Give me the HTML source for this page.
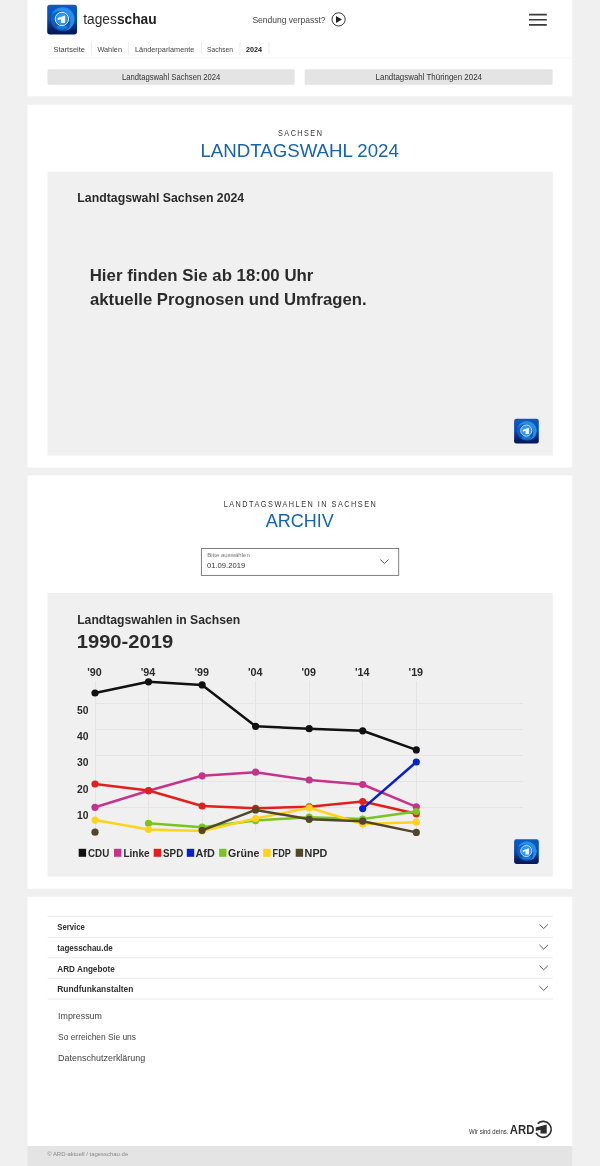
<!DOCTYPE html>
<html><head><meta charset="utf-8"><title>Landtagswahl Sachsen</title>
<style>
*{box-sizing:border-box;margin:0;padding:0}
html,body{width:600px;height:1166px;overflow:hidden}
body{background:#f0f0f0;font-family:"Liberation Sans",sans-serif;position:relative}
svg{position:absolute;left:0;top:0;will-change:transform;transform:translateZ(0)}
text{font-family:"Liberation Sans",sans-serif;white-space:pre}
</style></head><body>
<svg width="600" height="1166" viewBox="0 0 600 1166" font-family="Liberation Sans, sans-serif">
<defs>
<linearGradient id="lg" x1="0" y1="0" x2="0" y2="1"><stop offset="0" stop-color="#0b5cc2"/><stop offset=".5" stop-color="#0a4cae"/><stop offset=".85" stop-color="#051f66"/><stop offset="1" stop-color="#041a5a"/></linearGradient>
<filter id="bl" x="-20%" y="-20%" width="140%" height="140%"><feGaussianBlur stdDeviation=".7"/></filter>
<mask id="cm" maskUnits="userSpaceOnUse" x="0" y="0" width="30" height="30"><rect width="30" height="30" fill="#fff"/><circle cx="12.6" cy="17.2" r="10.8" fill="#000"/></mask>
</defs>
<rect x="27.60" y="0.00" width="544.60" height="96.30" fill="#fff"/>
<rect x="47.50" y="57.50" width="524.70" height="1.00" fill="#f4f4f4"/>
<g transform="translate(47.2 4.7) scale(0.9933)">
<rect width="30" height="30" rx="2.8" fill="url(#lg)"/>
<g filter="url(#bl)">
<circle cx="15.3" cy="15" r="11.6" fill="#1068d0" opacity=".7"/>
<circle cx="15.5" cy="14.6" r="12" fill="#2794ee" opacity=".9" mask="url(#cm)"/>
<ellipse cx="15" cy="22.6" rx="5.5" ry="2.4" fill="#2488e6" opacity=".7"/>
<circle cx="14.8" cy="14.3" r="6" fill="#2f98ee"/>
</g>
<circle cx="14.8" cy="14.3" r="6.7" fill="none" stroke="#fff" stroke-width=".95"/>
<path d="M10.6 13.3 L18 10.9 L18 18.5 L13.8 18.5 L13.8 14.6 L10.6 15.7z" fill="#fff" opacity=".93"/>
</g>
<text x="83.2" y="24" font-size="14.7" fill="#2b2b2b" textLength="73.5" lengthAdjust="spacingAndGlyphs">tages<tspan font-weight="bold" fill="#1e1e1e">schau</tspan></text>
<text x="252.40" y="23.00" font-size="9.3" fill="#444" textLength="73.20" lengthAdjust="spacingAndGlyphs">Sendung verpasst?</text>
<circle cx="338.6" cy="19.4" r="6.6" fill="none" stroke="#222" stroke-width=".9"/><path d="M336 15.9 L342 19.4 L336 22.9z" fill="#222"/>
<path d="M529 14.6H546.8M529 19.75H546.8M529 24.9H546.8" stroke="#3a3a3a" stroke-width="1.6" fill="none"/>
<text x="53.40" y="51.60" font-size="8.0" fill="#444" textLength="31.60" lengthAdjust="spacingAndGlyphs">Startseite</text>
<text x="97.40" y="51.60" font-size="8.0" fill="#444" textLength="24.60" lengthAdjust="spacingAndGlyphs">Wahlen</text>
<text x="135.00" y="51.60" font-size="8.0" fill="#444" textLength="59.40" lengthAdjust="spacingAndGlyphs">Länderparlamente</text>
<text x="207.00" y="51.60" font-size="8.0" fill="#444" textLength="26.00" lengthAdjust="spacingAndGlyphs">Sachsen</text>
<text x="246.00" y="51.60" font-size="8.0" fill="#222" font-weight="bold" textLength="16.00" lengthAdjust="spacingAndGlyphs">2024</text>
<rect x="90.90" y="42.00" width="1.00" height="12.60" fill="#ececec"/>
<rect x="127.90" y="42.00" width="1.00" height="12.60" fill="#ececec"/>
<rect x="201.10" y="42.00" width="1.00" height="12.60" fill="#ececec"/>
<rect x="239.50" y="42.00" width="1.00" height="12.60" fill="#ececec"/>
<rect x="268.50" y="42.00" width="1.00" height="12.60" fill="#ececec"/>
<rect x="47.50" y="69.30" width="247.20" height="15.40" rx="1.5" fill="#e4e4e4"/>
<rect x="304.70" y="69.30" width="247.90" height="15.40" rx="1.5" fill="#e4e4e4"/>
<text x="122.00" y="79.70" font-size="8.6" fill="#333" textLength="98.30" lengthAdjust="spacingAndGlyphs">Landtagswahl Sachsen 2024</text>
<text x="375.60" y="79.70" font-size="8.6" fill="#333" textLength="106.40" lengthAdjust="spacingAndGlyphs">Landtagswahl Thüringen 2024</text>
<rect x="27.60" y="104.70" width="544.60" height="362.90" fill="#fff"/>
<text x="278.00" y="135.90" font-size="8.3" fill="#333" letter-spacing="1.7" textLength="45.40" lengthAdjust="spacingAndGlyphs">SACHSEN</text>
<text x="200.50" y="156.60" font-size="18.9" fill="#1862a6" textLength="198.30" lengthAdjust="spacingAndGlyphs">LANDTAGSWAHL 2024</text>
<rect x="47.50" y="171.60" width="505.30" height="283.90" fill="#f0f0f0"/>
<text x="77.30" y="201.70" font-size="13.7" fill="#2b2b2b" font-weight="bold" textLength="166.90" lengthAdjust="spacingAndGlyphs">Landtagswahl Sachsen 2024</text>
<text x="89.70" y="281.30" font-size="17.0" fill="#2b2b2b" font-weight="bold" textLength="223.70" lengthAdjust="spacingAndGlyphs">Hier finden Sie ab 18:00 Uhr</text>
<text x="90.00" y="305.00" font-size="17.0" fill="#2b2b2b" font-weight="bold" textLength="276.60" lengthAdjust="spacingAndGlyphs">aktuelle Prognosen und Umfragen.</text>
<g transform="translate(514.1 418.8) scale(0.8233)">
<rect width="30" height="30" rx="2.8" fill="url(#lg)"/>
<g filter="url(#bl)">
<circle cx="15.3" cy="15" r="11.6" fill="#1068d0" opacity=".7"/>
<circle cx="15.5" cy="14.6" r="12" fill="#2794ee" opacity=".9" mask="url(#cm)"/>
<ellipse cx="15" cy="22.6" rx="5.5" ry="2.4" fill="#2488e6" opacity=".7"/>
<circle cx="14.8" cy="14.3" r="6" fill="#2f98ee"/>
</g>
<circle cx="14.8" cy="14.3" r="6.7" fill="none" stroke="#fff" stroke-width=".95"/>
<path d="M10.6 13.3 L18 10.9 L18 18.5 L13.8 18.5 L13.8 14.6 L10.6 15.7z" fill="#fff" opacity=".93"/>
</g>
<rect x="27.60" y="475.40" width="544.60" height="413.30" fill="#fff"/>
<text x="223.70" y="506.70" font-size="8.3" fill="#333" letter-spacing="1.7" textLength="153.60" lengthAdjust="spacingAndGlyphs">LANDTAGSWAHLEN IN SACHSEN</text>
<text x="265.70" y="527.40" font-size="18.9" fill="#1862a6" textLength="68.00" lengthAdjust="spacingAndGlyphs">ARCHIV</text>
<rect x="201.4" y="548.5" width="197.3" height="26.9" fill="#fff" stroke="#727272" stroke-width=".9"/>
<text x="207.20" y="556.60" font-size="5.8" fill="#777" textLength="42.60" lengthAdjust="spacingAndGlyphs">Bitte auswählen</text>
<text x="207.00" y="568.40" font-size="8.1" fill="#333" textLength="38.20" lengthAdjust="spacingAndGlyphs">01.09.2019</text>
<path d="M380.3 559.6 L384.4 563.4 L388.5 559.6" fill="none" stroke="#3a3a3a" stroke-width=".85"/>
<rect x="47.50" y="593.00" width="505.30" height="283.70" fill="#f0f0f0"/>
<text x="77.20" y="623.50" font-size="13.4" fill="#2b2b2b" font-weight="bold" textLength="163.00" lengthAdjust="spacingAndGlyphs">Landtagswahlen in Sachsen</text>
<text x="76.70" y="648.30" font-size="17.7" fill="#2b2b2b" font-weight="bold" textLength="96.50" lengthAdjust="spacingAndGlyphs">1990-2019</text>
<line x1="95" x2="523" y1="807.5" y2="807.5" stroke="#e4e4e4" stroke-width="1"/>
<line x1="95" x2="523" y1="781.5" y2="781.5" stroke="#e4e4e4" stroke-width="1"/>
<line x1="95" x2="523" y1="755.5" y2="755.5" stroke="#e4e4e4" stroke-width="1"/>
<line x1="95" x2="523" y1="729.5" y2="729.5" stroke="#e4e4e4" stroke-width="1"/>
<line x1="95" x2="523" y1="703.5" y2="703.5" stroke="#e4e4e4" stroke-width="1"/>
<line x1="95.5" x2="95.5" y1="681" y2="832" stroke="#e4e4e4" stroke-width="1"/>
<line x1="148.5" x2="148.5" y1="681" y2="832" stroke="#e4e4e4" stroke-width="1"/>
<line x1="202.5" x2="202.5" y1="681" y2="832" stroke="#e4e4e4" stroke-width="1"/>
<line x1="255.5" x2="255.5" y1="681" y2="832" stroke="#e4e4e4" stroke-width="1"/>
<line x1="309.5" x2="309.5" y1="681" y2="832" stroke="#e4e4e4" stroke-width="1"/>
<line x1="362.5" x2="362.5" y1="681" y2="832" stroke="#e4e4e4" stroke-width="1"/>
<line x1="416.5" x2="416.5" y1="681" y2="832" stroke="#e4e4e4" stroke-width="1"/>
<polyline fill="none" stroke="#111111" stroke-width="2.5" stroke-linejoin="round" points="95,693.0 148.5,681.8 202.1,684.9 255.6,726.3 309.2,728.7 362.7,730.8 416.3,749.9"/>
<circle cx="95" cy="693.0" r="3.6" fill="#111111"/>
<circle cx="148.5" cy="681.8" r="3.6" fill="#111111"/>
<circle cx="202.1" cy="684.9" r="3.6" fill="#111111"/>
<circle cx="255.6" cy="726.3" r="3.6" fill="#111111"/>
<circle cx="309.2" cy="728.7" r="3.6" fill="#111111"/>
<circle cx="362.7" cy="730.8" r="3.6" fill="#111111"/>
<circle cx="416.3" cy="749.9" r="3.6" fill="#111111"/>
<polyline fill="none" stroke="#c4348b" stroke-width="2.5" stroke-linejoin="round" points="95,807.3 148.5,790.8 202.1,775.8 255.6,772.2 309.2,780.0 362.7,784.5 416.3,806.8"/>
<circle cx="95" cy="807.3" r="3.6" fill="#c4348b"/>
<circle cx="148.5" cy="790.8" r="3.6" fill="#c4348b"/>
<circle cx="202.1" cy="775.8" r="3.6" fill="#c4348b"/>
<circle cx="255.6" cy="772.2" r="3.6" fill="#c4348b"/>
<circle cx="309.2" cy="780.0" r="3.6" fill="#c4348b"/>
<circle cx="362.7" cy="784.5" r="3.6" fill="#c4348b"/>
<circle cx="416.3" cy="806.8" r="3.6" fill="#c4348b"/>
<polyline fill="none" stroke="#e0201c" stroke-width="2.5" stroke-linejoin="round" points="95,784.0 148.5,790.5 202.1,806.0 255.6,808.3 309.2,806.8 362.7,801.5 416.3,813.8"/>
<circle cx="95" cy="784.0" r="3.6" fill="#e0201c"/>
<circle cx="148.5" cy="790.5" r="3.6" fill="#e0201c"/>
<circle cx="202.1" cy="806.0" r="3.6" fill="#e0201c"/>
<circle cx="255.6" cy="808.3" r="3.6" fill="#e0201c"/>
<circle cx="309.2" cy="806.8" r="3.6" fill="#e0201c"/>
<circle cx="362.7" cy="801.5" r="3.6" fill="#e0201c"/>
<circle cx="416.3" cy="813.8" r="3.6" fill="#e0201c"/>
<polyline fill="none" stroke="#0a20c8" stroke-width="2.5" stroke-linejoin="round" points="362.7,808.6 416.3,762.0"/>
<circle cx="362.7" cy="808.6" r="3.6" fill="#0a20c8"/>
<circle cx="416.3" cy="762.0" r="3.6" fill="#0a20c8"/>
<polyline fill="none" stroke="#7cc322" stroke-width="2.5" stroke-linejoin="round" points="148.5,823.3 202.1,827.2 255.6,820.6 309.2,817.2 362.7,819.1 416.3,811.5"/>
<circle cx="148.5" cy="823.3" r="3.6" fill="#7cc322"/>
<circle cx="202.1" cy="827.2" r="3.6" fill="#7cc322"/>
<circle cx="255.6" cy="820.6" r="3.6" fill="#7cc322"/>
<circle cx="309.2" cy="817.2" r="3.6" fill="#7cc322"/>
<circle cx="362.7" cy="819.1" r="3.6" fill="#7cc322"/>
<circle cx="416.3" cy="811.5" r="3.6" fill="#7cc322"/>
<polyline fill="none" stroke="#ffd21e" stroke-width="2.5" stroke-linejoin="round" points="95,820.1 148.5,829.5 202.1,831.1 255.6,818.5 309.2,807.8 362.7,824.0 416.3,822.2"/>
<circle cx="95" cy="820.1" r="3.6" fill="#ffd21e"/>
<circle cx="148.5" cy="829.5" r="3.6" fill="#ffd21e"/>
<circle cx="202.1" cy="831.1" r="3.6" fill="#ffd21e"/>
<circle cx="255.6" cy="818.5" r="3.6" fill="#ffd21e"/>
<circle cx="309.2" cy="807.8" r="3.6" fill="#ffd21e"/>
<circle cx="362.7" cy="824.0" r="3.6" fill="#ffd21e"/>
<circle cx="416.3" cy="822.2" r="3.6" fill="#ffd21e"/>
<polyline fill="none" stroke="#50462a" stroke-width="2.5" stroke-linejoin="round" points="202.1,830.3 255.6,809.9 309.2,819.3 362.7,821.2 416.3,832.4"/>
<circle cx="95" cy="832.2" r="3.6" fill="#50462a"/>
<circle cx="202.1" cy="830.3" r="3.6" fill="#50462a"/>
<circle cx="255.6" cy="809.9" r="3.6" fill="#50462a"/>
<circle cx="309.2" cy="819.3" r="3.6" fill="#50462a"/>
<circle cx="362.7" cy="821.2" r="3.6" fill="#50462a"/>
<circle cx="416.3" cy="832.4" r="3.6" fill="#50462a"/>
<text x="87.30" y="676.20" font-size="10.8" fill="#2b2b2b" font-weight="bold" textLength="14.50" lengthAdjust="spacingAndGlyphs">'90</text>
<text x="140.80" y="676.20" font-size="10.8" fill="#2b2b2b" font-weight="bold" textLength="14.50" lengthAdjust="spacingAndGlyphs">'94</text>
<text x="194.40" y="676.20" font-size="10.8" fill="#2b2b2b" font-weight="bold" textLength="14.50" lengthAdjust="spacingAndGlyphs">'99</text>
<text x="247.90" y="676.20" font-size="10.8" fill="#2b2b2b" font-weight="bold" textLength="14.50" lengthAdjust="spacingAndGlyphs">'04</text>
<text x="301.50" y="676.20" font-size="10.8" fill="#2b2b2b" font-weight="bold" textLength="14.50" lengthAdjust="spacingAndGlyphs">'09</text>
<text x="355.00" y="676.20" font-size="10.8" fill="#2b2b2b" font-weight="bold" textLength="14.50" lengthAdjust="spacingAndGlyphs">'14</text>
<text x="408.60" y="676.20" font-size="10.8" fill="#2b2b2b" font-weight="bold" textLength="14.50" lengthAdjust="spacingAndGlyphs">'19</text>
<text x="77.10" y="818.80" font-size="10.8" fill="#2b2b2b" font-weight="bold" textLength="11.50" lengthAdjust="spacingAndGlyphs">10</text>
<text x="77.10" y="792.60" font-size="10.8" fill="#2b2b2b" font-weight="bold" textLength="11.50" lengthAdjust="spacingAndGlyphs">20</text>
<text x="77.10" y="766.40" font-size="10.8" fill="#2b2b2b" font-weight="bold" textLength="11.50" lengthAdjust="spacingAndGlyphs">30</text>
<text x="77.10" y="740.20" font-size="10.8" fill="#2b2b2b" font-weight="bold" textLength="11.50" lengthAdjust="spacingAndGlyphs">40</text>
<text x="77.10" y="714.00" font-size="10.8" fill="#2b2b2b" font-weight="bold" textLength="11.50" lengthAdjust="spacingAndGlyphs">50</text>
<rect x="78.70" y="848.80" width="7.40" height="8.00" fill="#111111"/>
<text x="88.00" y="856.80" font-size="11.3" fill="#2b2b2b" font-weight="bold" textLength="21.20" lengthAdjust="spacingAndGlyphs">CDU</text>
<rect x="114.00" y="848.80" width="7.40" height="8.00" fill="#c4348b"/>
<text x="123.40" y="856.80" font-size="11.3" fill="#2b2b2b" font-weight="bold" textLength="26.20" lengthAdjust="spacingAndGlyphs">Linke</text>
<rect x="153.70" y="848.80" width="7.40" height="8.00" fill="#e0201c"/>
<text x="163.10" y="856.80" font-size="11.3" fill="#2b2b2b" font-weight="bold" textLength="20.10" lengthAdjust="spacingAndGlyphs">SPD</text>
<rect x="186.80" y="848.80" width="7.40" height="8.00" fill="#0a20c8"/>
<text x="195.50" y="856.80" font-size="11.3" fill="#2b2b2b" font-weight="bold" textLength="19.30" lengthAdjust="spacingAndGlyphs">AfD</text>
<rect x="219.10" y="848.80" width="7.40" height="8.00" fill="#7cc322"/>
<text x="228.10" y="856.80" font-size="11.3" fill="#2b2b2b" font-weight="bold" textLength="31.30" lengthAdjust="spacingAndGlyphs">Grüne</text>
<rect x="263.20" y="848.80" width="7.40" height="8.00" fill="#ffd21e"/>
<text x="272.60" y="856.80" font-size="11.3" fill="#2b2b2b" font-weight="bold" textLength="18.20" lengthAdjust="spacingAndGlyphs">FDP</text>
<rect x="295.70" y="848.80" width="7.40" height="8.00" fill="#50462a"/>
<text x="304.60" y="856.80" font-size="11.3" fill="#2b2b2b" font-weight="bold" textLength="22.80" lengthAdjust="spacingAndGlyphs">NPD</text>
<g transform="translate(514.1 839.2) scale(0.8233)">
<rect width="30" height="30" rx="2.8" fill="url(#lg)"/>
<g filter="url(#bl)">
<circle cx="15.3" cy="15" r="11.6" fill="#1068d0" opacity=".7"/>
<circle cx="15.5" cy="14.6" r="12" fill="#2794ee" opacity=".9" mask="url(#cm)"/>
<ellipse cx="15" cy="22.6" rx="5.5" ry="2.4" fill="#2488e6" opacity=".7"/>
<circle cx="14.8" cy="14.3" r="6" fill="#2f98ee"/>
</g>
<circle cx="14.8" cy="14.3" r="6.7" fill="none" stroke="#fff" stroke-width=".95"/>
<path d="M10.6 13.3 L18 10.9 L18 18.5 L13.8 18.5 L13.8 14.6 L10.6 15.7z" fill="#fff" opacity=".93"/>
</g>
<rect x="27.60" y="896.80" width="544.60" height="249.20" fill="#fff"/>
<rect x="47.50" y="915.80" width="505.30" height="1.00" fill="#eaeaea"/>
<rect x="47.50" y="936.80" width="505.30" height="1.00" fill="#eaeaea"/>
<rect x="47.50" y="957.30" width="505.30" height="1.00" fill="#eaeaea"/>
<rect x="47.50" y="977.80" width="505.30" height="1.00" fill="#eaeaea"/>
<rect x="47.50" y="998.60" width="505.30" height="1.00" fill="#eaeaea"/>
<text x="57.30" y="930.30" font-size="8.7" fill="#2e2e2e" font-weight="bold" textLength="27.50" lengthAdjust="spacingAndGlyphs">Service</text>
<text x="57.30" y="950.90" font-size="8.7" fill="#2e2e2e" font-weight="bold" textLength="55.50" lengthAdjust="spacingAndGlyphs">tagesschau.de</text>
<text x="57.30" y="971.70" font-size="8.7" fill="#2e2e2e" font-weight="bold" textLength="57.40" lengthAdjust="spacingAndGlyphs">ARD Angebote</text>
<text x="57.30" y="992.20" font-size="8.7" fill="#2e2e2e" font-weight="bold" textLength="76.00" lengthAdjust="spacingAndGlyphs">Rundfunkanstalten</text>
<path d="M539.5 924.40 L543.7 928.50 L547.9 924.40" fill="none" stroke="#4a4a4a" stroke-width=".9"/>
<path d="M539.5 945.00 L543.7 949.10 L547.9 945.00" fill="none" stroke="#4a4a4a" stroke-width=".9"/>
<path d="M539.5 965.70 L543.7 969.80 L547.9 965.70" fill="none" stroke="#4a4a4a" stroke-width=".9"/>
<path d="M539.5 986.30 L543.7 990.40 L547.9 986.30" fill="none" stroke="#4a4a4a" stroke-width=".9"/>
<text x="58.10" y="1018.70" font-size="8.8" fill="#444" textLength="43.80" lengthAdjust="spacingAndGlyphs">Impressum</text>
<text x="58.10" y="1040.00" font-size="8.8" fill="#444" textLength="77.90" lengthAdjust="spacingAndGlyphs">So erreichen Sie uns</text>
<text x="58.10" y="1061.30" font-size="8.8" fill="#444" textLength="87.20" lengthAdjust="spacingAndGlyphs">Datenschutzerklärung</text>
<text x="469.00" y="1133.50" font-size="7.1" fill="#333" textLength="39.40" lengthAdjust="spacingAndGlyphs">Wir sind deins.</text>
<text x="509.80" y="1133.80" font-size="12.5" fill="#2d2d2d" font-weight="bold" textLength="24.60" lengthAdjust="spacingAndGlyphs">ARD</text>
<path d="M537.7 1123.6 A8 8 0 1 1 536.1 1132.9" fill="none" stroke="#2d2d2d" stroke-width="1.6"/>
<path d="M535.8 1127.5 L546.7 1124.6 L546.7 1133.6 L540.5 1133.6 L540.5 1129.7 L535.8 1130.9z" fill="#2d2d2d"/>
<rect x="27.60" y="1145.90" width="544.60" height="20.10" fill="#e4e4e4"/>
<text x="47.20" y="1155.50" font-size="5.9" fill="#888" textLength="81.00" lengthAdjust="spacingAndGlyphs">© ARD-aktuell / tagesschau.de</text>
</svg>
</body></html>
